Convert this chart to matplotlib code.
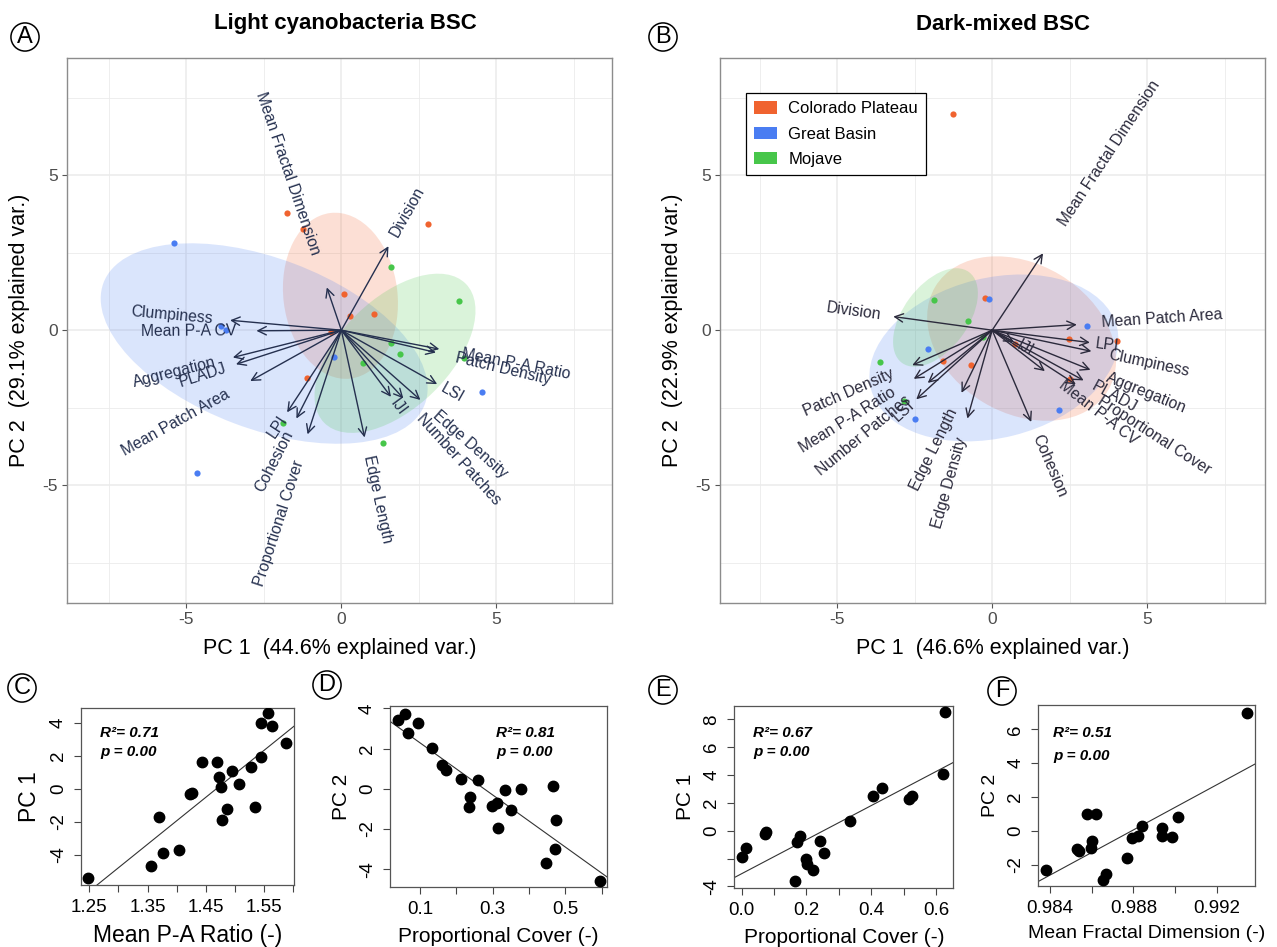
import numpy as np
import matplotlib
matplotlib.use("Agg")
import matplotlib.pyplot as plt
from matplotlib.patches import Ellipse, Patch
from matplotlib.textpath import TextPath
from matplotlib.font_manager import FontProperties

plt.rcParams['font.family'] = ['Liberation Sans', 'DejaVu Sans']

# ---------------- panel A : light cyanobacteria BSC (PCA scores) ----------------
a_cp_x = [-1.75, -1.25, 2.80, 0.10, 0.27, 1.06, -0.33, -1.10]
a_cp_y = [3.77, 3.28, 3.43, 1.18, 0.46, 0.52, -0.05, -1.55]
a_gb_x = [-5.41, -3.88, -3.72, -0.25, 4.55, -4.67]
a_gb_y = [2.80, 0.15, 0.01, -0.85, -1.98, -4.60]
a_mj_x = [1.60, 3.80, 1.60, 1.89, 0.69, 3.97, -1.87, 1.34]
a_mj_y = [2.04, 0.95, -0.40, -0.77, -1.07, -0.91, -3.00, -3.65]

a_vars = ["Mean Fractal Dimension", "Division", "Clumpiness", "Mean P-A CV",
          "Aggregation", "PLADJ", "Mean Patch Area", "LPI", "Cohesion",
          "Proportional Cover", "Edge Length", "IJI", "Number Patches",
          "Edge Density", "LSI", "Patch Density", "Mean P-A Ratio"]
a_load_x = [-0.47, 1.52, -3.59, -2.74, -3.50, -3.40, -2.94, -1.75, -1.45,
            -1.09, 0.75, 1.60, 2.00, 2.55, 3.09, 3.05, 3.16]
a_load_y = [1.38, 2.71, 0.32, -0.02, -0.88, -1.10, -1.64, -2.65, -2.85,
            -3.36, -3.46, -2.15, -2.20, -2.25, -1.74, -0.72, -0.61]

# group ellipses (CP, GB, MJ): centre, semi-axes, angle
a_ell_cx = [-0.03, -2.49, 1.73]
a_ell_cy = [1.11, -0.43, -0.745]
a_ell_a = [2.69, 5.54, 3.20]
a_ell_b = [1.84, 2.75, 1.76]
a_ell_ang = [97, -20.7, 44.4]

# ---------------- panel B : dark-mixed BSC ----------------
b_cp_x = [-1.28, -0.23, 2.48, 4.03, 0.73, -1.58, -0.69, 2.50]
b_cp_y = [6.98, 1.03, -0.28, -0.35, -0.43, -0.98, -1.12, -1.56]
b_gb_x = [-0.09, 3.05, -2.07, 2.17, -2.48]
b_gb_y = [1.01, 0.15, -0.60, -2.56, -2.85]
b_mj_x = [-1.88, -0.78, -0.31, -3.63, -2.86]
b_mj_y = [0.97, 0.31, -0.22, -1.04, -2.29]

b_vars = ["Mean Fractal Dimension", "Division", "Mean Patch Area", "LPI",
          "Clumpiness", "Aggregation", "PLADJ", "Proportional Cover",
          "Mean P-A CV", "IJI", "Cohesion", "Edge Density", "Edge Length",
          "Patch Density", "Mean P-A Ratio", "Number Patches", "LSI"]
b_load_x = [1.64, -3.19, 2.73, 3.15, 3.20, 3.17, 2.95, 2.70, 1.70, 0.70,
            1.26, -0.80, -0.99, -2.58, -2.53, -2.08, -2.45]
b_load_y = [2.48, 0.44, 0.18, -0.40, -0.68, -1.28, -1.62, -1.75, -1.32,
            -0.38, -2.96, -2.85, -2.02, -1.13, -1.57, -1.70, -2.23]

b_ell_cx = [0.95, 0.055, -1.83]
b_ell_cy = [-0.27, -0.895, 0.41]
b_ell_a = [3.25, 4.09, 1.82]
b_ell_b = [2.40, 2.58, 1.04]
b_ell_ang = [-31, 14, 53.5]

regions = ["Colorado Plateau", "Great Basin", "Mojave"]
reg_colors = ["#F0632F", "#4A7DF2", "#47C64A"]

# ---------------- panels C-F : regressions ----------------
c_x = [1.248, 1.355, 1.376, 1.404, 1.370, 1.423, 1.426, 1.444, 1.469, 1.472, 1.476,
       1.477, 1.487, 1.494, 1.507, 1.528, 1.535, 1.544, 1.544, 1.556, 1.564, 1.588]
c_y = [-5.36, -4.66, -3.85, -3.69, -1.73, -0.30, -0.24, 1.61, 1.61, 0.71, 0.10,
       -1.88, -1.19, 1.09, 0.30, 1.35, -1.07, 1.92, 3.97, 4.58, 3.81, 2.80]
d_x = [0.039, 0.059, 0.066, 0.095, 0.132, 0.160, 0.172, 0.212, 0.236, 0.238, 0.259,
       0.297, 0.313, 0.316, 0.334, 0.350, 0.377, 0.447, 0.467, 0.472, 0.474, 0.595]
d_y = [3.41, 3.74, 2.78, 3.28, 2.04, 1.18, 0.93, 0.51, -0.89, -0.40, 0.46,
       -0.86, -0.73, -1.97, -0.07, -1.06, -0.02, -3.68, 0.13, -3.00, -1.56, -4.57]
e_x = [0.002, 0.013, 0.072, 0.074, 0.164, 0.172, 0.180, 0.197, 0.202, 0.221,
       0.242, 0.254, 0.334, 0.406, 0.434, 0.517, 0.524, 0.622, 0.628]
e_y = [-1.87, -1.27, -0.24, -0.07, -3.62, -0.79, -0.36, -2.06, -2.42, -2.83,
       -0.72, -1.58, 0.69, 2.49, 3.04, 2.25, 2.49, 4.05, 8.50]
f_x = [0.98381, 0.98528, 0.98541, 0.98576, 0.98619, 0.98595, 0.98600, 0.98656, 0.98667,
       0.98768, 0.98792, 0.98821, 0.98843, 0.98939, 0.98939, 0.98984, 0.99016, 0.99344]
f_y = [-2.30, -1.06, -1.18, 0.98, 0.98, -1.02, -0.59, -2.89, -2.54,
       -1.57, -0.43, -0.28, 0.30, 0.16, -0.28, -0.33, 0.85, 6.99]

reg_xlabels = ["Mean P-A Ratio (-)", "Proportional Cover (-)",
               "Proportional Cover (-)", "Mean Fractal Dimension (-)"]
reg_ylabels = ["PC 1", "PC 2", "PC 1", "PC 2"]
reg_r2 = ["R\u00b2= 0.71", "R\u00b2= 0.81", "R\u00b2= 0.67", "R\u00b2= 0.51"]
reg_p = ["p = 0.00", "p = 0.00", "p = 0.00", "p = 0.00"]

c_xticks = [1.25, 1.30, 1.35, 1.40, 1.45, 1.50, 1.55, 1.60]
c_xtl = ["1.25", "", "1.35", "", "1.45", "", "1.55", ""]
d_xticks = [0.1, 0.2, 0.3, 0.4, 0.5, 0.6]
d_xtl = ["0.1", "", "0.3", "", "0.5", ""]
e_xticks = [0.0, 0.1, 0.2, 0.3, 0.4, 0.5, 0.6]
e_xtl = ["0.0", "", "0.2", "", "0.4", "", "0.6"]
f_xticks = [0.984, 0.986, 0.988, 0.990, 0.992]
f_xtl = ["0.984", "", "0.988", "", "0.992"]
c_yticks = [-4, -2, 0, 2, 4]
c_ytl = ["-4", "-2", "0", "2", "4"]
d_yticks = [-4, -2, 0, 2, 4]
d_ytl = ["-4", "-2", "0", "2", "4"]
e_yticks = [-4, -2, 0, 2, 4, 6, 8]
e_ytl = ["-4", "", "0", "2", "4", "6", "8"]
f_yticks = [-2, 0, 2, 4, 6]
f_ytl = ["-2", "0", "2", "4", "6"]

W, H = 1277, 947
fig = plt.figure(figsize=(W / 100, H / 100), dpi=100)

LABEL_FS = 11.3
fp = FontProperties(family='Liberation Sans', size=LABEL_FS)


def biplot(rect, xlim, groups, ells, names, lx, ly, arrow_col, xlab, ylab):
    ax = fig.add_axes(rect)
    ax.set_xlim(*xlim)
    ax.set_ylim(-8.8, 8.78)
    for k in range(3):
        e = Ellipse((ells[0][k], ells[1][k]), 2 * ells[2][k], 2 * ells[3][k],
                    angle=ells[4][k], facecolor=reg_colors[k], alpha=0.2,
                    edgecolor='none', zorder=1)
        ax.add_patch(e)
    for k, (gx, gy) in enumerate(groups):
        ax.scatter(gx, gy, s=20, color=reg_colors[k], zorder=3, linewidths=0)
    for n, x, y in zip(names, lx, ly):
        ax.annotate('', xy=(x, y), xytext=(0, 0), zorder=4,
                    arrowprops=dict(arrowstyle='->,head_length=0.4,head_width=0.2',
                                    color=arrow_col, lw=1.0, shrinkA=0, shrinkB=0,
                                    mutation_scale=15))
        ang = np.degrees(np.arctan(y / x))
        w = TextPath((0, 0), n, size=LABEL_FS, prop=fp).get_extents().width
        phi = np.arctan2(y, x)
        g = 0.2 * w + 1.0
        ax.annotate(n, xy=(x, y), xytext=(g * np.cos(phi), g * np.sin(phi)),
                    textcoords='offset points', rotation=ang, rotation_mode='anchor',
                    ha='left' if x > 0 else 'right', va='center',
                    fontsize=LABEL_FS, color=arrow_col, zorder=5)
    ax.set_xticks([-5, 0, 5])
    ax.set_xticklabels(['-5', '0', '5'])
    ax.set_yticks([-5, 0, 5])
    ax.set_yticklabels(['-5', '0', '5'])
    ax.set_xticks([-7.5, -2.5, 2.5, 7.5], minor=True)
    ax.set_yticks([-7.5, -2.5, 2.5, 7.5], minor=True)
    ax.grid(which='major', color='#EBEBEB', lw=1.1, zorder=0)
    ax.grid(which='minor', color='#EBEBEB', lw=0.6, zorder=0)
    ax.set_axisbelow(True)
    ax.tick_params(which='major', length=3.5, width=0.8, color='#555555',
                   labelcolor='#4D4D4D', labelsize=12.5, pad=3)
    ax.tick_params(which='minor', length=0)
    for s in ax.spines.values():
        s.set_color('#8C8C8C')
        s.set_linewidth(1.0)
    ax.set_xlabel(xlab, fontsize=15.5, labelpad=8)
    ax.set_ylabel(ylab, fontsize=15.5, labelpad=9)
    return ax


axA = biplot([67 / W, 1 - 603 / H, 545 / W, 545 / H], (-8.85, 8.73),
             [(a_cp_x, a_cp_y), (a_gb_x, a_gb_y), (a_mj_x, a_mj_y)],
             (a_ell_cx, a_ell_cy, a_ell_a, a_ell_b, a_ell_ang),
             a_vars, a_load_x, a_load_y, '#25304F',
             "PC 1  (44.6% explained var.)", "PC 2  (29.1% explained var.)")

axB = biplot([720 / W, 1 - 603 / H, 545 / W, 545 / H], (-8.78, 8.8),
             [(b_cp_x, b_cp_y), (b_gb_x, b_gb_y), (b_mj_x, b_mj_y)],
             (b_ell_cx, b_ell_cy, b_ell_a, b_ell_b, b_ell_ang),
             b_vars, b_load_x, b_load_y, '#2B2A3C',
             "PC 1  (46.6% explained var.)", "PC 2  (22.9% explained var.)")

handles = [Patch(facecolor=c, edgecolor='none') for c in reg_colors]
leg = axB.legend(handles, regions, loc='upper left', bbox_to_anchor=(0.048, 0.936),
                 fontsize=12, frameon=True, fancybox=False, framealpha=1,
                 edgecolor='black', handlelength=1.38, handleheight=0.75,
                 labelspacing=0.62, borderpad=0.5, handletextpad=0.64, borderaxespad=0)
leg.get_frame().set_linewidth(0.9)

fig.text(345 / W, 1 - 24 / H, "Light cyanobacteria BSC", ha='center', va='center',
         fontsize=16, fontweight='bold',
         family=['Liberation Sans Narrow', 'Liberation Sans'])
fig.text(1003 / W, 1 - 24 / H, "Dark-mixed BSC", ha='center', va='center',
         fontsize=16, fontweight='bold',
         family=['Liberation Sans Narrow', 'Liberation Sans'])

# ---------------- bottom regression panels ----------------
reg_rects = [[80.7, 708.3, 294.3, 885.0], [390.0, 706.0, 607.3, 887.3],
             [734.3, 706.0, 953.3, 888.3], [1038.3, 705.0, 1255.0, 886.0]]
reg_xlims = [(1.2353, 1.6016), (0.0174, 0.6156), (-0.0226, 0.6526), (0.98344, 0.99384)]
reg_ylims = [(-5.81, 4.87), (-4.9, 4.12), (-4.14, 8.96), (-3.25, 7.44)]
lab_fs = [16.5, 15, 15, 14]
txt_pos = [(0.09, 0.86, 0.755), (0.49, 0.85, 0.745), (0.087, 0.852, 0.745), (0.069, 0.845, 0.72)]
reg_data = [(c_x, c_y, c_xticks, c_xtl, c_yticks, c_ytl),
            (d_x, d_y, d_xticks, d_xtl, d_yticks, d_ytl),
            (e_x, e_y, e_xticks, e_xtl, e_yticks, e_ytl),
            (f_x, f_y, f_xticks, f_xtl, f_yticks, f_ytl)]

for i, (xs, ys, xt, xtl, yt, ytl) in enumerate(reg_data):
    l, t, r, b = reg_rects[i]
    ax = fig.add_axes([l / W, 1 - b / H, (r - l) / W, (b - t) / H])
    xs = np.array(xs)
    ys = np.array(ys)
    ax.plot(xs, ys, 'o', color='black', ms=7.5, zorder=3)
    m, c0 = np.polyfit(xs, ys, 1)
    ax.axline((xs.mean(), m * xs.mean() + c0), slope=m, color='#333333', lw=0.8, zorder=2)
    ax.set_xlim(*reg_xlims[i])
    ax.set_ylim(*reg_ylims[i])
    ax.set_xticks(xt)
    ax.set_xticklabels(xtl)
    ax.set_yticks(yt)
    ax.set_yticklabels(ytl, rotation=90, va='center')
    ax.tick_params(length=5, width=0.8, labelsize=13.5, pad=5, color='#444444')
    for s in ax.spines.values():
        s.set_color('#555555')
        s.set_linewidth(0.9)
    ax.set_xlabel(reg_xlabels[i], fontsize=lab_fs[i], labelpad=6)
    ax.set_ylabel(reg_ylabels[i], fontsize=lab_fs[i], labelpad=6)
    tx, ty1, ty2 = txt_pos[i]
    ax.text(tx, ty1, reg_r2[i], transform=ax.transAxes, fontsize=11,
            fontweight='bold', fontstyle='italic', va='center')
    ax.text(tx, ty2, reg_p[i], transform=ax.transAxes, fontsize=11,
            fontweight='bold', fontstyle='italic', va='center')

# circled panel letters
letters = ["A", "B", "C", "D", "E", "F"]
letter_xy = [(25, 37), (663, 37), (22, 688), (327, 685), (663, 690), (1002, 691)]
for s, (lx, ly) in zip(letters, letter_xy):
    fig.text(lx / W, 1 - ly / H, s, ha='center', va='center', fontsize=17,
             bbox=dict(boxstyle='circle,pad=0.13', fc='none', ec='black', lw=1.1))

fig.savefig("out.png", dpi=100)
